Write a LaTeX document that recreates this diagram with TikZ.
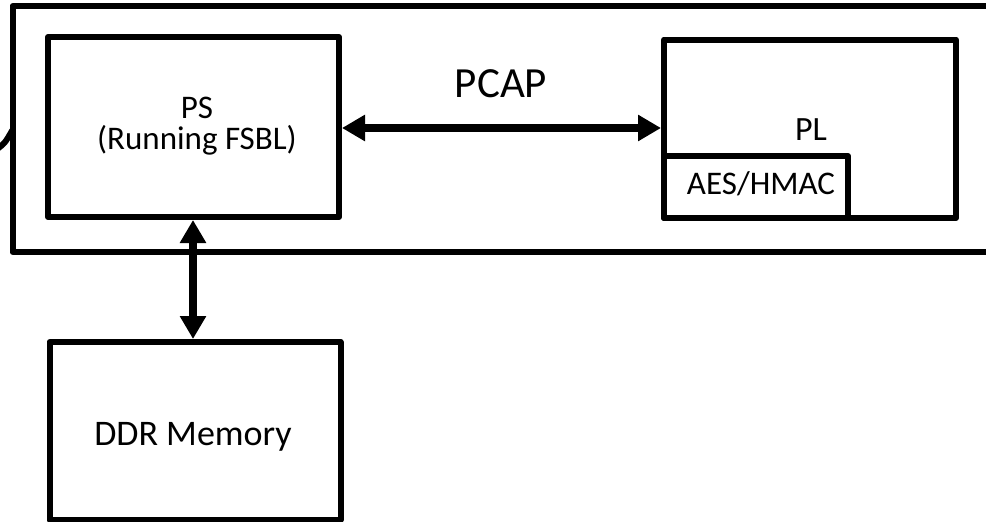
\documentclass[tikz,border=0pt]{standalone}
\usepackage{fontspec}
\setmainfont{Carlito}
\usetikzlibrary{arrows.meta}
\tikzset{
  blk/.style={draw=black, line width=6pt, line join=round, rectangle, inner sep=0pt, fill=none, align=center},
  lbl/.style={inner sep=0pt, text=black, align=center},
  biarrow/.style={line width=7.5pt, {Triangle[length=23pt,width=25pt]}-{Triangle[length=23pt,width=25pt]}}
}
\begin{document}
\begin{tikzpicture}[x=1pt,y=-1pt]
\useasboundingbox (0,0) rectangle (986,522);
\clip (0,0) rectangle (986,522);
\fill[white] (0,0) rectangle (986,522);
% outer chip boundary (extends past right edge)
\node[blk, minimum width=1017.5pt, minimum height=246pt] (chip) at (521.25,129) {};
% stub curve at left
\coordinate (stubA) at (-4,150);
\coordinate (stubB) at (12.5,130);
\draw[line width=6pt] (stubA) .. controls (5,143) .. (stubB);
% boxes
\node[blk, minimum width=291pt, minimum height=180pt] (ps) at (193.5,127) {};
\node[lbl, font=\fontsize{33}{31}\selectfont, anchor=base] (pstext) at (197,149) {PS\\(Running FSBL)};
\node[blk, minimum width=292pt, minimum height=178.5pt] (pl) at (810,128.75) {};
\node[blk, minimum width=184pt, minimum height=62pt] (aes) at (756,187) {};
\node[lbl, font=\fontsize{33}{36}\selectfont, anchor=base] (aestext) at (761,194) {AES/HMAC};
\node[blk, minimum width=291pt, minimum height=178pt] (ddr) at (195,431) {};
\node[lbl, font=\fontsize{36}{40}\selectfont, anchor=base] (ddrtext) at (193,445) {DDR Memory};
% labels
\node[lbl, anchor=base, font=\fontsize{34}{36}\selectfont] (pllbl) at (811,140) {PL};
\node[lbl, anchor=base, font=\fontsize{43}{46}\selectfont] (pcap) at (501,97) {PCAP};
% connectors
\draw[biarrow] (ps.east |- 0,128) -- (pl.west |- 0,128);
\draw[biarrow] (ps.south -| 193,0) -- (ddr.north -| 193,0);
\end{tikzpicture}
\end{document}
